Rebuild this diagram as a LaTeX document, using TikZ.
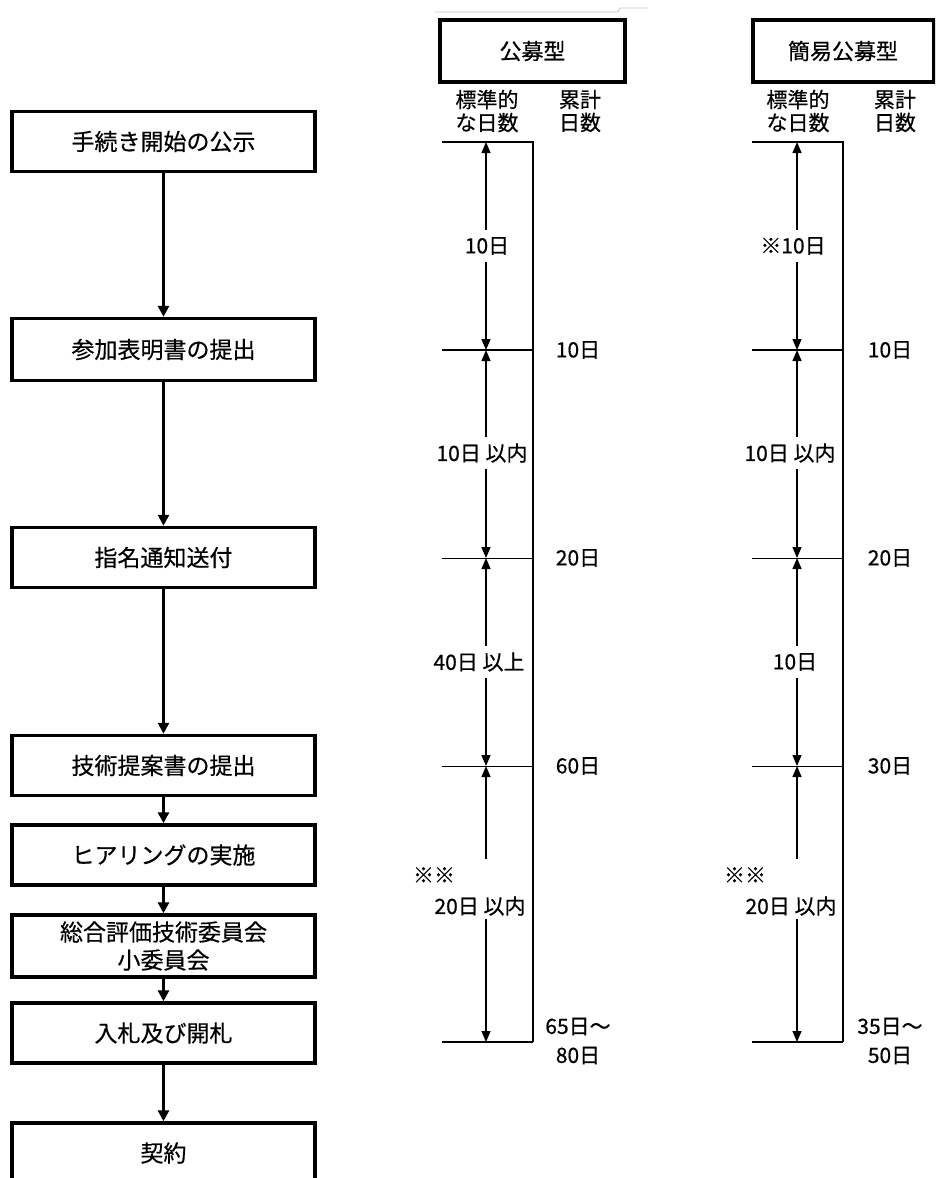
\documentclass[tikz,border=0pt]{standalone}
\usepackage{fontspec}
\setmainfont{Noto Sans CJK JP}[FakeBold=0.5]
\usetikzlibrary{arrows.meta}
\begin{document}
\begin{tikzpicture}[x=1pt,y=-1pt,
  flowbox/.style={draw,line width=3.5pt,minimum width=303pt,minimum height=60pt,inner sep=0pt,align=center,font=\fontsize{23}{28}\selectfont},
  headbox/.style={draw,line width=4pt,minimum height=62pt,inner sep=0pt,font=\fontsize{22}{26}\selectfont},
  colhead/.style={align=center,inner sep=0pt,font=\fontsize{21}{23}\selectfont},
  lbl/.style={inner sep=0pt,minimum height=32pt,font=\fontsize{21}{24}\selectfont},
  cum/.style={inner sep=0pt,align=center,font=\fontsize{21}{29}\selectfont},
  flow/.style={line width=3pt,-{Triangle[width=11pt,length=11pt]}},
  dim/.style={line width=1.3pt,-{Triangle[width=9pt,length=11pt]}},
  tickthick/.style={line width=2pt},
  tickthin/.style={line width=1pt}
]
\useasboundingbox (0,0) rectangle (935,1178);
\clip (0,0) rectangle (935,1178);
\fill[white] (0,0) rectangle (935,1178);

% faint top line
\draw[gray!45,line width=0.8pt] (435,12) -- (618,12) -- (620,8) -- (648,8);

% ---------- left flow ----------
\node[flowbox] (b1) at (163.5,141.5) {手続き開始の公示};
\node[flowbox,minimum height=62pt] (b2) at (163.5,349.5) {参加表明書の提出};
\node[flowbox] (b3) at (163.5,557.5) {指名通知送付};
\node[flowbox] (b4) at (163.5,765.5) {技術提案書の提出};
\node[flowbox] (b5) at (163.5,855) {ヒアリングの実施};
\node[flowbox,minimum height=62pt] (b6) at (163.5,946) {総合評価技術委員会\\小委員会};
\node[flowbox] (b7) at (163.5,1033) {入札及び開札};
\node[flowbox] (b8) at (163.5,1153) {契約};
\draw[flow] (b1) -- (b2);
\draw[flow] (b2) -- (b3);
\draw[flow] (b3) -- (b4);
\draw[flow] (b4) -- (b5);
\draw[flow] (b5) -- (b6);
\draw[flow] (b6) -- (b7);
\draw[flow] (b7) -- (b8);

% ---------- middle panel ----------
\node[headbox,minimum width=185pt] (h1) at (532.5,51) {公募型};
\node[colhead] (c1a) at (487,111) {標準的\\な日数};
\node[colhead] (c1b) at (580,111) {累計\\日数};

\coordinate (p0) at (486,142);
\coordinate (p1) at (486,350);
\coordinate (p2) at (486,558);
\coordinate (p3) at (486,766);
\coordinate (p4) at (486,1042);

\draw[line width=1.6pt] (442,142) -- (533,142) -- (533,1042);
\draw[tickthick] (442,1042) -- (533,1042);
\draw[tickthick] (442,350) -- (533,350);
\draw[tickthin] (442,558) -- (533,558);
\draw[tickthin] (442,766) -- (533,766);

\node[lbl] (m1) at (487,246) {10日};
\node[lbl,minimum height=31pt] (m2) at (482,453) {10日 以内};
\node[lbl] (m3) at (479,662) {40日 以上};
\node[lbl] (m4a) at (434,875) {※※};
\node[lbl,minimum height=26pt] (m4) at (480,906) {20日 以内};

\draw[dim] (p0 |- m1.north) -- (p0);
\draw[dim] (p1 |- m1.south) -- (p1);
\draw[dim] (p1 |- m2.north) -- (p1);
\draw[dim] (p2 |- m2.south) -- (p2);
\draw[dim] (p2 |- m3.north) -- (p2);
\draw[dim] (p3 |- m3.south) -- (p3);
\draw[dim] (p3 |- m4a.north) -- (p3);
\draw[dim] (p4 |- m4.south) -- (p4);

\node[cum] (s1) at (578,350) {10日};
\node[cum] (s2) at (578,558) {20日};
\node[cum] (s3) at (578,766) {60日};
\node[cum] (s4) at (578,1041) {65日～\\80日};

% ---------- right panel ----------
\node[headbox,minimum width=181pt] (h2) at (843,51) {簡易公募型};
\node[colhead] (c2a) at (798,111) {標準的\\な日数};
\node[colhead] (c2b) at (895,111) {累計\\日数};

\coordinate (q0) at (797,142);
\coordinate (q1) at (797,350);
\coordinate (q2) at (797,558);
\coordinate (q3) at (797,766);
\coordinate (q4) at (797,1042);

\draw[line width=1.6pt] (752,142) -- (843,142) -- (843,1042);
\draw[tickthick] (752,1042) -- (843,1042);
\draw[tickthick] (752,350) -- (843,350);
\draw[tickthin] (752,558) -- (843,558);
\draw[tickthin] (752,766) -- (843,766);

\node[lbl] (n1) at (793,246) {※10日};
\node[lbl,minimum height=31pt] (n2) at (790,453) {10日 以内};
\node[lbl] (n3) at (795,662) {10日};
\node[lbl] (n4a) at (745,875) {※※};
\node[lbl,minimum height=26pt] (n4) at (791,906) {20日 以内};

\draw[dim] (q0 |- n1.north) -- (q0);
\draw[dim] (q1 |- n1.south) -- (q1);
\draw[dim] (q1 |- n2.north) -- (q1);
\draw[dim] (q2 |- n2.south) -- (q2);
\draw[dim] (q2 |- n3.north) -- (q2);
\draw[dim] (q3 |- n3.south) -- (q3);
\draw[dim] (q3 |- n4a.north) -- (q3);
\draw[dim] (q4 |- n4.south) -- (q4);

\node[cum] (r1) at (890,350) {10日};
\node[cum] (r2) at (890,558) {20日};
\node[cum] (r3) at (890,766) {30日};
\node[cum] (r4) at (890,1041) {35日～\\50日};
\end{tikzpicture}
\end{document}
